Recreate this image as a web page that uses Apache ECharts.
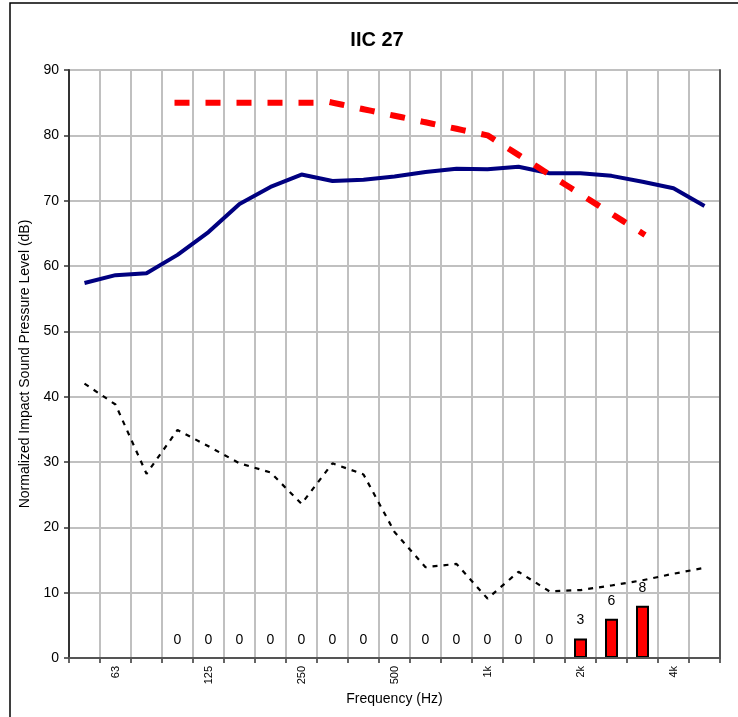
<!DOCTYPE html>
<html>
<head>
<meta charset="utf-8">
<script src="https://cdn.jsdelivr.net/npm/echarts@6/dist/echarts.min.js"></script>
<style>html,body{margin:0;padding:0;background:#fff;}#c{width:738px;height:717px;}</style>
</head>
<body>
<div id="c"></div>
<script>
const categories = ['50','63','80','100','125','160','200','250','315','400','500','630','800','1k','1.25k','1.6k','2k','2.5k','3.15k','4k','5k'];
const measured = [57.4, 58.6, 58.9, 61.7, 65.2, 69.5, 72.1, 74.0, 73.0, 73.2, 73.7, 74.4, 74.9, 74.8, 75.2, 74.2, 74.2, 73.8, 72.9, 71.9, 69.2];
const contour = [null, null, null, 85, 85, 85, 85, 85, 85, 84, 83, 82, 81, 80, 77, 74, 71, 68, 65, null, null];
const background = [42.0, 38.8, 28.2, 34.9, 32.4, 29.8, 28.4, 23.6, 29.8, 28.1, 19.3, 13.9, 14.4, 9.1, 13.2, 10.2, 10.4, 11.1, 11.9, 12.9, 13.8];
const deficiency = [null, null, null, 0, 0, 0, 0, 0, 0, 0, 0, 0, 0, 0, 0, 0, 3, 6, 8, null, null];
const titleText = 'IIC 27';
const xName = 'Frequency (Hz)';
const yName = 'Normalized Impact Sound Pressure Level (dB)';

const FONT = 'Liberation Sans, Arial, sans-serif';
const chart = echarts.init(document.getElementById('c'), null, {renderer: 'canvas'});
const barData = deficiency.map(v => v === 0 ? {value: v, itemStyle: {borderWidth: 0}} : v);

chart.setOption({
  animation: false,
  backgroundColor: '#fff',
  textStyle: {fontFamily: FONT},
  title: {
    text: titleText, left: 372, top: 25, textAlign: 'center',
    textStyle: {fontFamily: FONT, fontSize: 20, fontWeight: 'bold', color: '#000'}
  },
  graphic: [{
    type: 'rect', shape: {x: 10, y: 3, width: 800, height: 800},
    style: {fill: 'none', stroke: '#000', lineWidth: 1.5}, silent: true
  }],
  grid: {left: 69, right: 18, top: 70, bottom: 59, containLabel: false},
  xAxis: [{
    type: 'category', data: categories, boundaryGap: true,
    name: xName, nameLocation: 'middle', nameGap: 31,
    nameTextStyle: {fontFamily: FONT, fontSize: 14, color: '#000'},
    axisLine: {show: true, lineStyle: {color: '#333', width: 2}},
    axisTick: {show: true, interval: 0, length: 5, lineStyle: {color: '#333', width: 1.5}},
    axisLabel: {interval: (i) => i % 3 === 1, rotate: 90, fontSize: 11, color: '#000', margin: 8, fontFamily: FONT},
    splitLine: {show: true, interval: 0, lineStyle: {color: '#c0c0c0', width: 2}}
  }, {
    type: 'category', data: categories, position: 'top', z: 3,
    axisLine: {show: true, lineStyle: {color: '#555', width: 2}},
    axisTick: {show: false}, axisLabel: {show: false}, splitLine: {show: false}
  }],
  yAxis: [{
    type: 'value', min: 0, max: 90, interval: 10,
    name: yName, nameLocation: 'middle', nameGap: 33, nameRotate: 90,
    nameTextStyle: {fontFamily: FONT, fontSize: 14, color: '#000'},
    axisLine: {show: true, lineStyle: {color: '#333', width: 2}},
    axisTick: {show: true, length: 5, lineStyle: {color: '#333', width: 1.5}},
    axisLabel: {fontSize: 14, color: '#000', margin: 10, fontFamily: FONT},
    splitLine: {show: true, lineStyle: {color: '#c0c0c0', width: 2}}
  }, {
    type: 'value', min: 0, max: 90, interval: 10, position: 'right', z: 3,
    axisLine: {show: true, lineStyle: {color: '#555', width: 2}},
    axisTick: {show: false}, axisLabel: {show: false}, splitLine: {show: false}
  }],
  series: [{
    type: 'bar', data: barData, barWidth: 13, z: 2,
    itemStyle: {color: '#ff0000', borderColor: '#000', borderWidth: 2},
    label: {show: true, position: 'top', distance: 11, fontSize: 14, color: '#000', fontFamily: FONT}
  }, {
    type: 'line', data: measured, symbol: 'none', z: 3,
    lineStyle: {color: '#000080', width: 4}
  }, {
    type: 'line', data: background, symbol: 'none', z: 3,
    lineStyle: {color: '#000', width: 2.2, type: [5, 6]}
  }, {
    type: 'line', data: contour, symbol: 'none', z: 4,
    lineStyle: {color: '#ff0000', width: 6, type: [9, 22], cap: 'square'}
  }]
});
</script>
</body>
</html>
